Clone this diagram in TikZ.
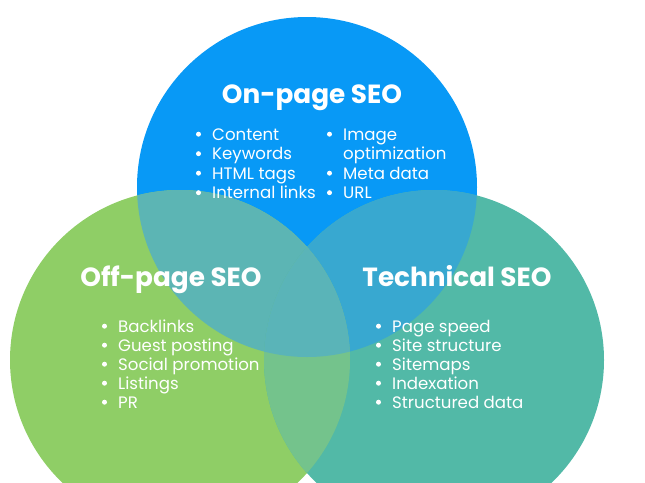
\documentclass[tikz,border=0pt]{standalone}
\usepackage{fontspec}
\setmainfont{Poppins}
\newfontfamily\titlefont{Poppins Bold}
\definecolor{cBlue}{RGB}{8,153,246}
\definecolor{cGreen}{RGB}{143,206,102}
\definecolor{cTeal}{RGB}{82,185,167}
\definecolor{cBG}{RGB}{92,181,180}
\definecolor{cBT}{RGB}{56,168,208}
\definecolor{cGT}{RGB}{116,195,140}
\definecolor{cTri}{RGB}{90,180,184}
\tikzset{
  ttl/.style={text=white, font=\titlefont\fontsize{26.3}{30}\selectfont, anchor=base, inner sep=0pt},
  itm/.style={text=white, font=\fontsize{16.6}{19}\selectfont, anchor=base west, inner sep=0pt},
  bulletdot/.style={fill=white},
}
\begin{document}
\begin{tikzpicture}[x=1pt,y=-1pt]
\useasboundingbox (0,0) rectangle (645,482);
\clip (0,0) rectangle (645,482);
\coordinate (cT) at (307,187);
\coordinate (cG) at (180,360);
\coordinate (cE) at (434,360);
\fill[cBlue] (cT) circle[radius=170pt];
\fill[cGreen] (cG) circle[radius=170pt];
\fill[cTeal] (cE) circle[radius=170pt];
\begin{scope}
  \clip (cT) circle[radius=170pt];
  \fill[cBG] (cG) circle[radius=170pt];
  \fill[cBT] (cE) circle[radius=170pt];
\end{scope}
\begin{scope}
  \clip (cG) circle[radius=170pt];
  \fill[cGT] (cE) circle[radius=170pt];
\end{scope}
\begin{scope}
  \clip (cT) circle[radius=170pt];
  \clip (cG) circle[radius=170pt];
  \fill[cTri] (cE) circle[radius=170pt];
\end{scope}
% titles
\node[ttl] (tOn) at (312,103) {On-page SEO};
\node[ttl] (tOff) at (171,286) {Off-page SEO};
\node[ttl] (tTech) at (457,286) {Technical SEO};
% on-page items
\node[itm] (o1) at (212,140) {Content};
\node[itm] (o2) at (212,159.5) {Keywords};
\node[itm] (o3) at (212,179) {HTML tags};
\node[itm] (o4) at (212,198.5) {Internal links};
\node[itm] (o5) at (343,140) {Image};
\node[itm] (o6) at (343,159.5) {optimization};
\node[itm] (o7) at (343,179) {Meta data};
\node[itm] (o8) at (343,198.5) {URL};
% off-page items
\node[itm] (f1) at (118,332) {Backlinks};
\node[itm] (f2) at (118,351) {Guest posting};
\node[itm] (f3) at (118,370) {Social promotion};
\node[itm] (f4) at (118,389) {Listings};
\node[itm] (f5) at (118,408) {PR};
% technical items
\node[itm] (e1) at (392,332) {Page speed};
\node[itm] (e2) at (392,351) {Site structure};
\node[itm] (e3) at (392,370) {Sitemaps};
\node[itm] (e4) at (392,389) {Indexation};
\node[itm] (e5) at (392,408) {Structured data};
% bullets
\foreach \n in {o1,o2,o3,o4,o5,o7,o8,f1,f2,f3,f4,f5,e1,e2,e3,e4,e5}
  \fill[bulletdot, shift={(\n.base west)}] (-13.5,-5.8) circle[radius=2.5pt];
\end{tikzpicture}
\end{document}
